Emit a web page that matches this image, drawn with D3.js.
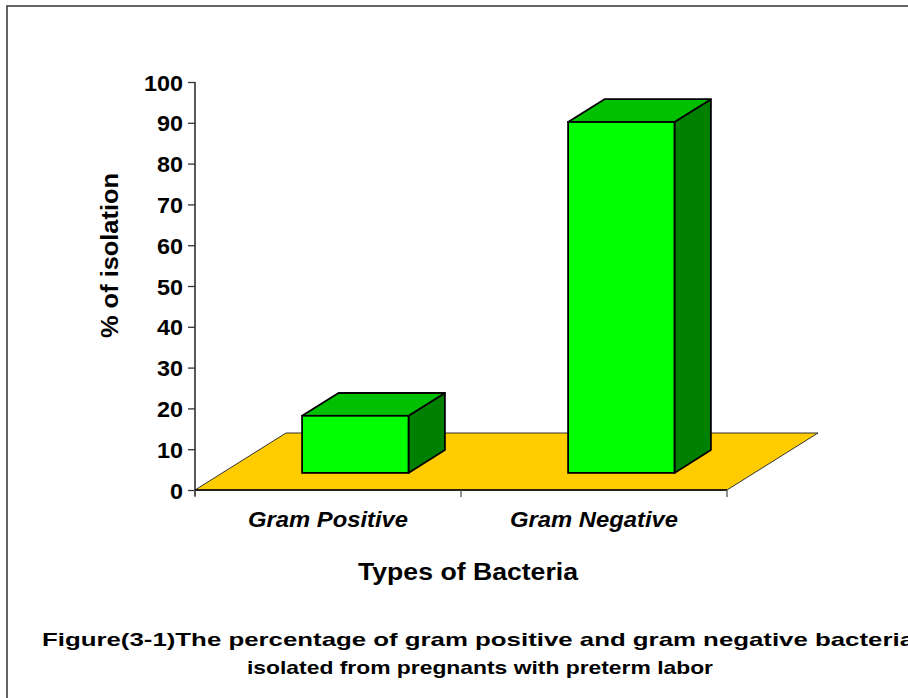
<!DOCTYPE html>
<html>
<head>
<meta charset="utf-8">
<script src="https://cdn.jsdelivr.net/npm/d3@7/dist/d3.min.js"></script>
<style>
  html, body { margin: 0; padding: 0; background: #fff; }
  svg { display: block; }
  text { font-family: Arial, "Liberation Sans", sans-serif; font-weight: bold; fill: #000; }
</style>
</head>
<body>
<script>
// ---- data ----
const categories = ["Gram Positive", "Gram Negative"];
const values = [14, 86];
const yTicks = [0, 10, 20, 30, 40, 50, 60, 70, 80, 90, 100];
const yTitle = "% of isolation";
const xTitle = "Types of Bacteria";
const captionLines = [
  "Figure(3-1)The percentage of gram positive and gram negative bacteria",
  "isolated from pregnants with preterm labor"
];

// ---- layout ----
const W = 908, H = 698;
const svg = d3.select("body").append("svg").attr("width", W).attr("height", H);

// outer frame (extends beyond the visible area)
svg.append("rect").attr("x", 7).attr("y", 6).attr("width", 960).attr("height", 760)
  .attr("fill", "none").attr("stroke", "#333").attr("stroke-width", 1.5);

const x0 = 195, x1 = 727, yBase = 490, yTop = 82;
const depthX = 91, depthY = -57;
const y = d3.scaleLinear().domain([0, 100]).range([yBase, yTop]);
const x = d3.scaleBand().domain(categories).range([x0, x1]).paddingInner(0.6).paddingOuter(0.3);
const step = x.step();

// floor
const floor = [[x0, yBase], [x1, yBase], [x1 + depthX, yBase + depthY], [x0 + depthX, yBase + depthY]];
svg.append("path").attr("d", "M" + floor.map(p => p.join(",")).join("L") + "Z")
  .attr("fill", "#FFCC00").attr("stroke", "#333").attr("stroke-width", 1);

// y axis
const yAxis = d3.axisLeft(y).tickValues(yTicks).tickSize(7).tickFormat("");
const gy = svg.append("g").attr("transform", `translate(${x0},0)`).call(yAxis);
gy.select(".domain").attr("stroke", "#000").attr("stroke-width", 1.3).attr("d", `M0,${yTop}V${yBase + 6}`);
gy.selectAll(".tick line").attr("stroke", "#333").attr("stroke-width", 1.3);
gy.selectAll(".tick").append("text")
  .attr("x", -12).attr("dy", "0.36em").attr("text-anchor", "end")
  .style("font-size", "22.5px")
  .attr("textLength", d => String(d).length * 13).attr("lengthAdjust", "spacingAndGlyphs")
  .text(d => d);

// x axis line with category boundary ticks
const xBoundaries = [x0, ...categories.map(c => x(c) - step * 0.3 + step)];
const gx = svg.append("g");
gx.append("line").attr("x1", x0).attr("x2", x1).attr("y1", yBase).attr("y2", yBase)
  .attr("stroke", "#000").attr("stroke-width", 1.3);
gx.selectAll("line.tk").data(xBoundaries).join("line").attr("class", "tk")
  .attr("x1", d => d).attr("x2", d => d).attr("y1", yBase).attr("y2", yBase + 7)
  .attr("stroke", "#555").attr("stroke-width", 1.3);

// category labels
svg.selectAll("text.cat").data(categories).join("text").attr("class", "cat")
  .attr("x", d => x(d) + x.bandwidth() / 2).attr("y", 527)
  .attr("text-anchor", "middle").style("font-size", "22px").style("font-style", "italic")
  .attr("textLength", (d, i) => i === 0 ? 160 : 168).attr("lengthAdjust", "spacingAndGlyphs")
  .text(d => d);

// 3D bars
const f0 = 0.3, f1 = 0.7;
const sx = depthX * f0, sy = depthY * f0;
const bdx = depthX * (f1 - f0), bdy = depthY * (f1 - f0);
const bars = svg.selectAll("g.bar").data(categories.map((c, i) => ({c, v: values[i]}))).join("g").attr("class", "bar");
bars.each(function(d) {
  const g = d3.select(this);
  const L = x(d.c) + sx, R = L + x.bandwidth();
  const B = y(0) + sy, T = y(d.v) + sy;
  const poly = pts => "M" + pts.map(p => p.join(",")).join("L") + "Z";
  // side
  g.append("path").attr("d", poly([[R, B], [R + bdx, B + bdy], [R + bdx, T + bdy], [R, T]]))
    .attr("fill", "#008000").attr("stroke", "#000").attr("stroke-width", 1.8).attr("stroke-linejoin", "round");
  // top
  g.append("path").attr("d", poly([[L, T], [R, T], [R + bdx, T + bdy], [L + bdx, T + bdy]]))
    .attr("fill", "#00C000").attr("stroke", "#000").attr("stroke-width", 1.8).attr("stroke-linejoin", "round");
  // front
  g.append("rect").attr("x", L).attr("y", T).attr("width", R - L).attr("height", B - T)
    .attr("fill", "#00FF00").attr("stroke", "#000").attr("stroke-width", 1.8);
});

// axis titles
svg.append("text").attr("transform", "translate(118,255.5) rotate(-90)")
  .attr("text-anchor", "middle").style("font-size", "23px")
  .attr("textLength", 165).attr("lengthAdjust", "spacingAndGlyphs").text(yTitle);
svg.append("text").attr("x", 468).attr("y", 580).attr("text-anchor", "middle")
  .style("font-size", "23px").attr("textLength", 220).attr("lengthAdjust", "spacingAndGlyphs").text(xTitle);

// caption
svg.append("text").attr("x", 42).attr("y", 646).style("font-size", "19px")
  .attr("textLength", 872).attr("lengthAdjust", "spacingAndGlyphs").text(captionLines[0]);
svg.append("text").attr("x", 247).attr("y", 674).style("font-size", "19px")
  .attr("textLength", 466).attr("lengthAdjust", "spacingAndGlyphs").text(captionLines[1]);
</script>
</body>
</html>
